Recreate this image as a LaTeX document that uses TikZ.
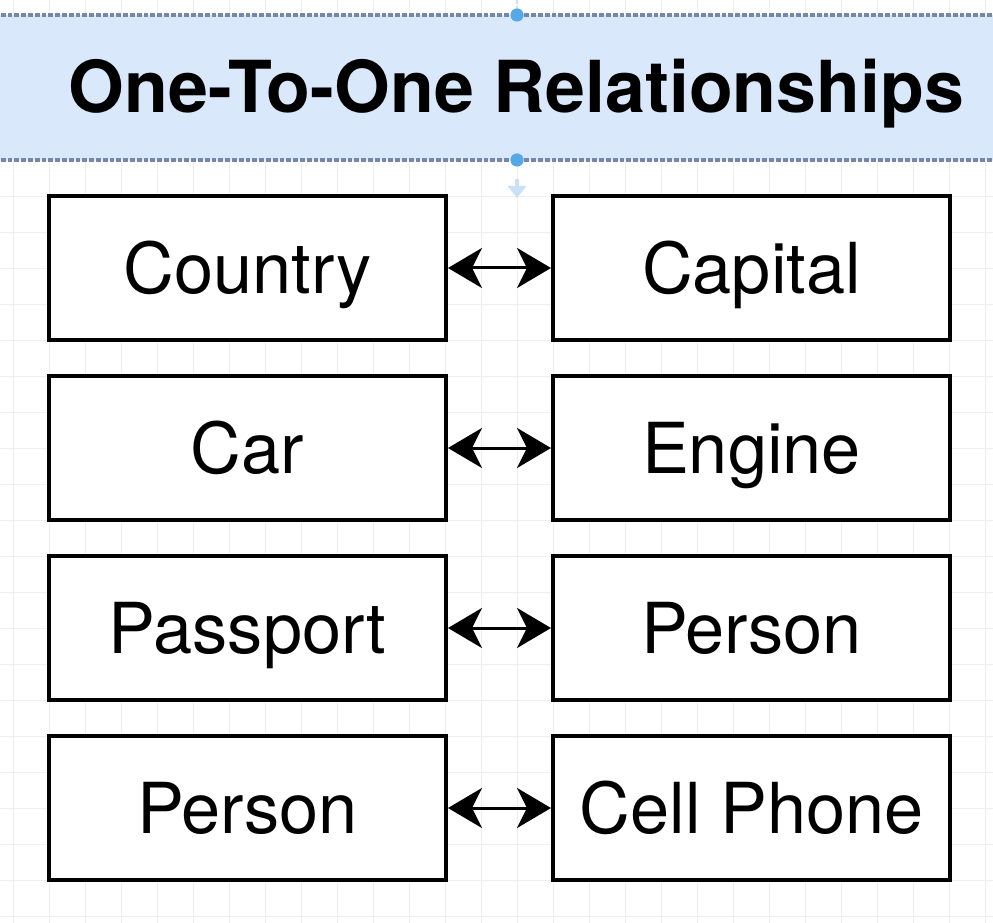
\documentclass[tikz,border=0pt]{standalone}
\usepackage{fontspec}
\setmainfont{TeX Gyre Heros}
\usetikzlibrary{arrows.meta}

\definecolor{bandfill}{HTML}{DAE8FC}
\definecolor{banddash}{HTML}{7787A8}
\definecolor{handle}{HTML}{55AAE6}
\definecolor{handlelight}{HTML}{C8E1F6}
\definecolor{gridgray}{HTML}{EEEEEE}

\begin{document}
\begin{tikzpicture}[
    entity/.style={rectangle, draw=black, line width=0.1cm, fill=white,
        minimum width=9.925cm, minimum height=3.6cm, inner sep=0pt,
        font=\fontsize{50}{60}\selectfont, text height=1.27cm, text depth=0pt},
    arrow/.style={{Stealth[length=0.85cm, width=1.0cm, inset=0.25cm]}-{Stealth[length=0.85cm, width=1.0cm, inset=0.25cm]}, line width=0.075cm},
    dot/.style={circle, fill=handle, minimum size=0.33cm, inner sep=0pt}
]

    % --- Frame and grid ---
    \useasboundingbox (0, 0) rectangle (24.825, -23.075);
    \clip (0, 0) rectangle (24.825, -23.075);
    \fill[white] (0, 0) rectangle (24.825, -23.075);
    \draw[gridgray, line width=0.5pt, shift={(0.325, -0.4)}]
        (-0.9, 0.9) grid[step=0.9] (25.2, -23.4);

    % --- Title band ---
    \fill[bandfill] (-1, -0.375) rectangle (26, -4);
    \draw[banddash, line width=0.1cm, dash pattern=on 0.12cm off 0.05cm] (-1, -0.375) -- (26, -0.375);
    \draw[banddash, line width=0.1cm, dash pattern=on 0.12cm off 0.05cm] (-1, -4) -- (26, -4);
    \node[font=\bfseries\fontsize{51}{60}\selectfont, text height=1.3cm, text depth=0pt] (title) at (12.91, -2.17) {One-To-One Relationships};

    % Handles
    \node[dot] (ht) at (12.925, -0.375) {};
    \node[dot] (hb) at (12.925, -4) {};
    \coordinate (top) at (12.925, 0);
    \coordinate (down) at (12.925, -4.95);
    \draw[handlelight, line width=0.06cm, dash pattern=on 0.1cm off 0.06cm] (top) -- (ht);
    \draw[handlelight, line width=0.1cm, -{Triangle[length=0.3cm, width=0.45cm]}, shorten <=0.3cm] (hb) -- (down);

    % --- Entities ---
    \node[entity] (country)  at (6.1875, -6.7)  {Country};
    \node[entity] (capital)  at (18.7875, -6.7)  {Capital};
    \node[entity] (car)      at (6.1875, -11.2) {Car};
    \node[entity] (engine)   at (18.7875, -11.2) {Engine};
    \node[entity] (passport) at (6.1875, -15.7) {Passport};
    \node[entity] (person)   at (18.7875, -15.7) {Person};
    \node[entity] (owner)    at (6.1875, -20.2) {Person};
    \node[entity] (phone)    at (18.7875, -20.2) {Cell Phone};

    % --- Relationships ---
    \draw[arrow] (country) -- (capital);
    \draw[arrow] (car) -- (engine);
    \draw[arrow] (passport) -- (person);
    \draw[arrow] (owner) -- (phone);

\end{tikzpicture}
\end{document}
